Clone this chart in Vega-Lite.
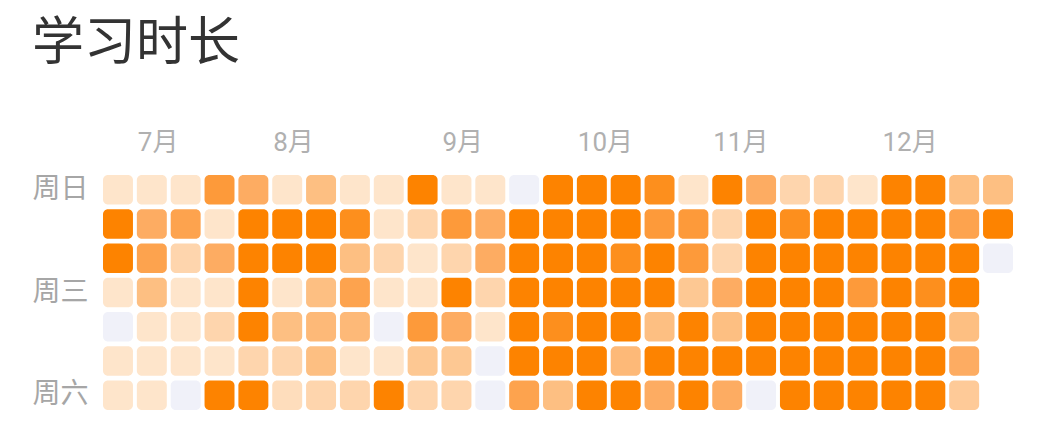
{
  "$schema": "https://vega.github.io/schema/vega-lite/v6.json",
  "autosize": {"type": "none"},
  "padding": {"left": 103, "top": 175, "right": 26, "bottom": 27},
  "width": 910,
  "height": 235,
  "background": "#ffffff",
  "title": {
    "text": "学习时长",
    "anchor": "start",
    "frame": "bounds",
    "font": "Noto Sans CJK SC",
    "fontSize": 52,
    "fontWeight": "normal",
    "color": "#333333",
    "offset": 58
  },
  "config": {
    "view": {"stroke": null},
    "font": "Noto Sans CJK SC"
  },
  "data": {
    "values": [
      {"week": 0, "day": "周日", "hours": 1}, {"week": 0, "day": "周一", "hours": 6}, {"week": 0, "day": "周二", "hours": 6}, {"week": 0, "day": "周三", "hours": 1}, {"week": 0, "day": "周四", "hours": 0}, {"week": 0, "day": "周五", "hours": 1}, {"week": 0, "day": "周六", "hours": 1},
      {"week": 1, "day": "周日", "hours": 1}, {"week": 1, "day": "周一", "hours": 4}, {"week": 1, "day": "周二", "hours": 4.5}, {"week": 1, "day": "周三", "hours": 3}, {"week": 1, "day": "周四", "hours": 1}, {"week": 1, "day": "周五", "hours": 1}, {"week": 1, "day": "周六", "hours": 1},
      {"week": 2, "day": "周日", "hours": 1}, {"week": 2, "day": "周一", "hours": 4.5}, {"week": 2, "day": "周二", "hours": 2}, {"week": 2, "day": "周三", "hours": 1}, {"week": 2, "day": "周四", "hours": 1}, {"week": 2, "day": "周五", "hours": 1}, {"week": 2, "day": "周六", "hours": 0},
      {"week": 3, "day": "周日", "hours": 5}, {"week": 3, "day": "周一", "hours": 1}, {"week": 3, "day": "周二", "hours": 4}, {"week": 3, "day": "周三", "hours": 1}, {"week": 3, "day": "周四", "hours": 2}, {"week": 3, "day": "周五", "hours": 1}, {"week": 3, "day": "周六", "hours": 6},
      {"week": 4, "day": "周日", "hours": 4}, {"week": 4, "day": "周一", "hours": 6}, {"week": 4, "day": "周二", "hours": 6}, {"week": 4, "day": "周三", "hours": 6}, {"week": 4, "day": "周四", "hours": 6}, {"week": 4, "day": "周五", "hours": 2}, {"week": 4, "day": "周六", "hours": 6},
      {"week": 5, "day": "周日", "hours": 1}, {"week": 5, "day": "周一", "hours": 6}, {"week": 5, "day": "周二", "hours": 6}, {"week": 5, "day": "周三", "hours": 1}, {"week": 5, "day": "周四", "hours": 3}, {"week": 5, "day": "周五", "hours": 2}, {"week": 5, "day": "周六", "hours": 1.5},
      {"week": 6, "day": "周日", "hours": 3}, {"week": 6, "day": "周一", "hours": 6}, {"week": 6, "day": "周二", "hours": 6}, {"week": 6, "day": "周三", "hours": 3}, {"week": 6, "day": "周四", "hours": 3.3}, {"week": 6, "day": "周五", "hours": 3}, {"week": 6, "day": "周六", "hours": 2},
      {"week": 7, "day": "周日", "hours": 1}, {"week": 7, "day": "周一", "hours": 5.5}, {"week": 7, "day": "周二", "hours": 3}, {"week": 7, "day": "周三", "hours": 4.5}, {"week": 7, "day": "周四", "hours": 3.3}, {"week": 7, "day": "周五", "hours": 1}, {"week": 7, "day": "周六", "hours": 2},
      {"week": 8, "day": "周日", "hours": 1}, {"week": 8, "day": "周一", "hours": 1}, {"week": 8, "day": "周二", "hours": 2}, {"week": 8, "day": "周三", "hours": 1}, {"week": 8, "day": "周四", "hours": 0}, {"week": 8, "day": "周五", "hours": 1}, {"week": 8, "day": "周六", "hours": 6},
      {"week": 9, "day": "周日", "hours": 6}, {"week": 9, "day": "周一", "hours": 2}, {"week": 9, "day": "周二", "hours": 1}, {"week": 9, "day": "周三", "hours": 1}, {"week": 9, "day": "周四", "hours": 5}, {"week": 9, "day": "周五", "hours": 2.6}, {"week": 9, "day": "周六", "hours": 2},
      {"week": 10, "day": "周日", "hours": 1}, {"week": 10, "day": "周一", "hours": 5}, {"week": 10, "day": "周二", "hours": 2}, {"week": 10, "day": "周三", "hours": 6}, {"week": 10, "day": "周四", "hours": 4}, {"week": 10, "day": "周五", "hours": 2.6}, {"week": 10, "day": "周六", "hours": 2},
      {"week": 11, "day": "周日", "hours": 1}, {"week": 11, "day": "周一", "hours": 4}, {"week": 11, "day": "周二", "hours": 4}, {"week": 11, "day": "周三", "hours": 2}, {"week": 11, "day": "周四", "hours": 1}, {"week": 11, "day": "周五", "hours": 0}, {"week": 11, "day": "周六", "hours": 0},
      {"week": 12, "day": "周日", "hours": 0}, {"week": 12, "day": "周一", "hours": 6}, {"week": 12, "day": "周二", "hours": 6}, {"week": 12, "day": "周三", "hours": 6}, {"week": 12, "day": "周四", "hours": 6}, {"week": 12, "day": "周五", "hours": 6}, {"week": 12, "day": "周六", "hours": 4.5},
      {"week": 13, "day": "周日", "hours": 6}, {"week": 13, "day": "周一", "hours": 6}, {"week": 13, "day": "周二", "hours": 6}, {"week": 13, "day": "周三", "hours": 6}, {"week": 13, "day": "周四", "hours": 5.5}, {"week": 13, "day": "周五", "hours": 6}, {"week": 13, "day": "周六", "hours": 3},
      {"week": 14, "day": "周日", "hours": 6}, {"week": 14, "day": "周一", "hours": 6}, {"week": 14, "day": "周二", "hours": 6}, {"week": 14, "day": "周三", "hours": 6}, {"week": 14, "day": "周四", "hours": 6}, {"week": 14, "day": "周五", "hours": 6}, {"week": 14, "day": "周六", "hours": 6},
      {"week": 15, "day": "周日", "hours": 6}, {"week": 15, "day": "周一", "hours": 6}, {"week": 15, "day": "周二", "hours": 5.5}, {"week": 15, "day": "周三", "hours": 6}, {"week": 15, "day": "周四", "hours": 6}, {"week": 15, "day": "周五", "hours": 3.3}, {"week": 15, "day": "周六", "hours": 6},
      {"week": 16, "day": "周日", "hours": 5.5}, {"week": 16, "day": "周一", "hours": 5}, {"week": 16, "day": "周二", "hours": 6}, {"week": 16, "day": "周三", "hours": 6}, {"week": 16, "day": "周四", "hours": 3}, {"week": 16, "day": "周五", "hours": 6}, {"week": 16, "day": "周六", "hours": 4},
      {"week": 17, "day": "周日", "hours": 1}, {"week": 17, "day": "周一", "hours": 5}, {"week": 17, "day": "周二", "hours": 5}, {"week": 17, "day": "周三", "hours": 2.6}, {"week": 17, "day": "周四", "hours": 6}, {"week": 17, "day": "周五", "hours": 6}, {"week": 17, "day": "周六", "hours": 6},
      {"week": 18, "day": "周日", "hours": 6}, {"week": 18, "day": "周一", "hours": 2}, {"week": 18, "day": "周二", "hours": 2}, {"week": 18, "day": "周三", "hours": 4}, {"week": 18, "day": "周四", "hours": 3}, {"week": 18, "day": "周五", "hours": 6}, {"week": 18, "day": "周六", "hours": 4},
      {"week": 19, "day": "周日", "hours": 4}, {"week": 19, "day": "周一", "hours": 6}, {"week": 19, "day": "周二", "hours": 6}, {"week": 19, "day": "周三", "hours": 6}, {"week": 19, "day": "周四", "hours": 6}, {"week": 19, "day": "周五", "hours": 6}, {"week": 19, "day": "周六", "hours": 0},
      {"week": 20, "day": "周日", "hours": 2}, {"week": 20, "day": "周一", "hours": 5.5}, {"week": 20, "day": "周二", "hours": 6}, {"week": 20, "day": "周三", "hours": 6}, {"week": 20, "day": "周四", "hours": 6}, {"week": 20, "day": "周五", "hours": 6}, {"week": 20, "day": "周六", "hours": 6},
      {"week": 21, "day": "周日", "hours": 2}, {"week": 21, "day": "周一", "hours": 6}, {"week": 21, "day": "周二", "hours": 6}, {"week": 21, "day": "周三", "hours": 6}, {"week": 21, "day": "周四", "hours": 6}, {"week": 21, "day": "周五", "hours": 6}, {"week": 21, "day": "周六", "hours": 6},
      {"week": 22, "day": "周日", "hours": 1}, {"week": 22, "day": "周一", "hours": 6}, {"week": 22, "day": "周二", "hours": 6}, {"week": 22, "day": "周三", "hours": 5}, {"week": 22, "day": "周四", "hours": 6}, {"week": 22, "day": "周五", "hours": 6}, {"week": 22, "day": "周六", "hours": 6},
      {"week": 23, "day": "周日", "hours": 6}, {"week": 23, "day": "周一", "hours": 6}, {"week": 23, "day": "周二", "hours": 6}, {"week": 23, "day": "周三", "hours": 6}, {"week": 23, "day": "周四", "hours": 6}, {"week": 23, "day": "周五", "hours": 6}, {"week": 23, "day": "周六", "hours": 6},
      {"week": 24, "day": "周日", "hours": 6}, {"week": 24, "day": "周一", "hours": 6}, {"week": 24, "day": "周二", "hours": 6}, {"week": 24, "day": "周三", "hours": 5.5}, {"week": 24, "day": "周四", "hours": 6}, {"week": 24, "day": "周五", "hours": 6}, {"week": 24, "day": "周六", "hours": 6},
      {"week": 25, "day": "周日", "hours": 3}, {"week": 25, "day": "周一", "hours": 4.5}, {"week": 25, "day": "周二", "hours": 6}, {"week": 25, "day": "周三", "hours": 6}, {"week": 25, "day": "周四", "hours": 3}, {"week": 25, "day": "周五", "hours": 4}, {"week": 25, "day": "周六", "hours": 2.5},
      {"week": 26, "day": "周日", "hours": 3}, {"week": 26, "day": "周一", "hours": 6}, {"week": 26, "day": "周二", "hours": 0}
    ]
  },
  "mark": {"type": "rect", "cornerRadius": 5},
  "encoding": {
    "x": {
      "field": "week",
      "type": "ordinal",
      "scale": {"paddingInner": 0.115, "paddingOuter": 0},
      "axis": {
        "orient": "top",
        "title": null,
        "domain": false,
        "ticks": false,
        "labelAlign": "left",
        "labelAngle": 0,
        "labelOffset": -14,
        "labelOverlap": false,
        "labelFont": "Roboto, Noto Sans CJK SC",
        "labelFontSize": 26,
        "labelColor": "#b0b0b0",
        "labelPadding": 20,
        "labelExpr": "datum.value == 1 ? '7月' : datum.value == 5 ? '8月' : datum.value == 10 ? '9月' : datum.value == 14 ? '10月' : datum.value == 18 ? '11月' : datum.value == 23 ? '12月' : ''"
      }
    },
    "y": {
      "field": "day",
      "type": "ordinal",
      "sort": ["周日", "周一", "周二", "周三", "周四", "周五", "周六"],
      "scale": {"domain": ["周日", "周一", "周二", "周三", "周四", "周五", "周六"], "paddingInner": 0.14, "paddingOuter": 0},
      "axis": {
        "title": null,
        "domain": false,
        "ticks": false,
        "labelOverlap": false,
        "labelBound": false,
        "labelFlush": false,
        "labelFont": "Noto Sans CJK SC",
        "labelFontSize": 28,
        "labelColor": "#a6a6a6",
        "labelPadding": 15,
        "labelExpr": "datum.value == '周日' || datum.value == '周三' || datum.value == '周六' ? datum.value : ''"
      }
    },
    "color": {
      "field": "hours",
      "type": "quantitative",
      "scale": {
        "domain": [0, 1, 2, 3, 4, 5, 6],
        "range": ["#f0f1f9", "#fee5cb", "#fed5ad", "#fdbf82", "#fdac62", "#fd9a3a", "#fd8300"],
        "interpolate": "rgb",
        "clamp": true
      },
      "legend": null
    }
  }
}
